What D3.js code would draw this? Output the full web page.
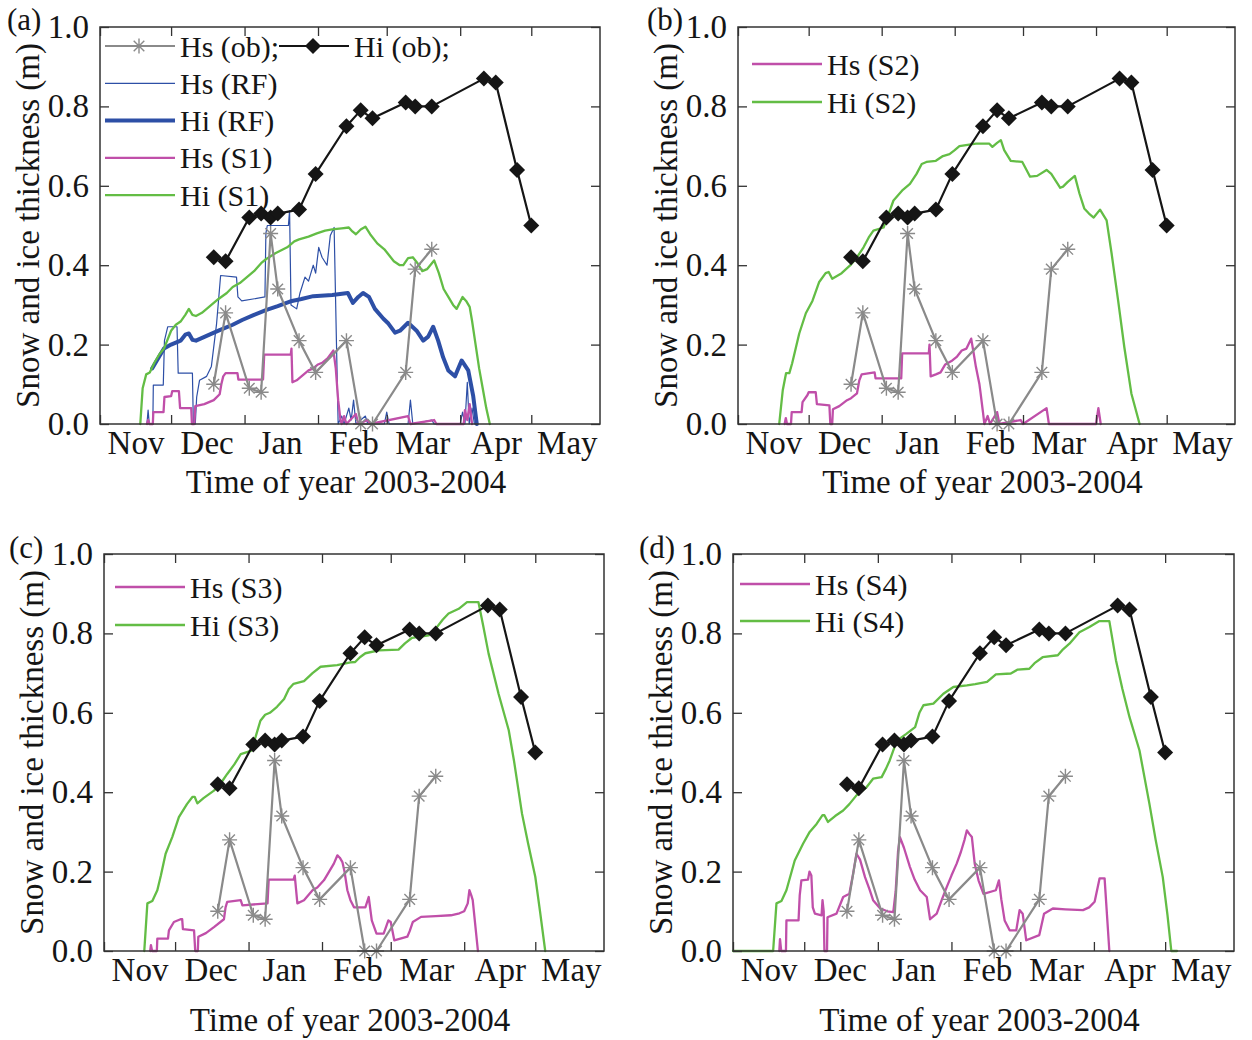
<!DOCTYPE html>
<html lang="en">
<head>
<meta charset="UTF-8">
<title>Snow and ice thickness 2003-2004</title>
<script src="https://d3js.org/d3.v7.min.js"></script>
<style>
  body { margin: 0; background: #fff; }
  svg text { font-family: "Liberation Serif", "Times New Roman", serif; fill: #151515; }
  .line { fill: none; stroke-linejoin: round; stroke-linecap: round; }
</style>
</head>
<body>
<script>
// ---- observations ----
const obsDates = ["2003-12-19", "2003-12-24", "2004-01-03", "2004-01-08", "2004-01-12", "2004-01-15",
  "2004-01-24", "2004-01-31", "2004-02-13", "2004-02-19", "2004-02-24", "2004-03-09", "2004-03-13",
  "2004-03-20", "2004-04-11", "2004-04-16", "2004-04-25", "2004-05-01"]
const hiOb = [0.42, 0.41, 0.52, 0.53, 0.52, 0.53, 0.54, 0.63, 0.75, 0.79, 0.77, 0.81, 0.80, 0.80, 0.87, 0.86, 0.64, 0.50]
const hsOb = [0.10, 0.28, 0.09, 0.08, 0.48, 0.34, 0.21, 0.13, 0.21, 0.0, 0.0, 0.13, 0.39, 0.44]

// ---- model runs: [days since 1 Nov 2003, thickness in m] ----
const hsRF = [[19.8,0],[20.3,0.035],[20.8,0],[22.3,0],[22.5,0.098],[26.7,0.098],[27.2,0.21],[28.6,0.245],[32.5,0.245],
  [33,0.128],[39,0.128],[39.4,0],[40.2,0],[40.8,0.068],[42,0.11],[45,0.12],[47,0.145],[49.2,0.253],[50.9,0.374],
  [57.6,0.37],[58.2,0.32],[59.8,0.31],[69.6,0.32],[70,0.48],[70.6,0.50],[75,0.50],[79.5,0.50],[80,0.537],[80.6,0.30],
  [83,0.29],[84.4,0.33],[86.5,0.37],[88,0.36],[90,0.40],[91,0.38],[92.3,0.445],[93.7,0.42],[95.8,0.40],[97.2,0.475],
  [98.8,0.495],[99.8,0.20],[100.5,0],[102,0.02],[103,0],[105,0.04],[106,0.01],[107,0.06],[108,0],[112,0.02],[113,0],
  [120,0],[121,0.03],[122,0],[130,0],[131,0.06],[132,0],[140,0.01],[141,0],[152,0],[153,0.03],[154,0],[155,0.105],
  [155.8,0],[157,0.04],[158,0]]
const hiRF = [[22,0.14],[25,0.17],[27,0.19],[30,0.2],[34,0.21],[36,0.225],[37.5,0.228],[39,0.212],[40.5,0.21],
  [45,0.222],[50,0.235],[56,0.25],[60,0.262],[65,0.275],[70,0.287],[75,0.297],[81,0.31],[85,0.315],[90,0.322],
  [98,0.325],[104.6,0.33],[106.7,0.305],[109,0.32],[111,0.33],[113.5,0.32],[116,0.29],[119.6,0.265],[121.7,0.253],
  [124.5,0.23],[126.6,0.235],[130,0.255],[133.6,0.235],[136.4,0.21],[138.5,0.22],[140.6,0.245],[142.7,0.21],
  [144.8,0.168],[147,0.135],[149.8,0.12],[152.6,0.16],[155.4,0.135],[157.5,0.07],[159,0]]
const hsS1 = [[19.8,0],[20.3,0.01],[20.8,0],[22.3,0],[22.5,0.03],[26.8,0.03],[27.2,0.068],[30,0.07],[30.5,0.083],
  [33.3,0.083],[33.8,0.04],[38.5,0.04],[38.8,0],[39.8,0],[40.2,0.045],[44,0.05],[48,0.06],[50.5,0.075],[51.2,0.10],
  [52,0.12],[53,0.128],[58,0.128],[58.4,0.112],[68.8,0.112],[69.3,0.175],[80.5,0.175],[80.8,0.19],[81.2,0.105],
  [83,0.11],[86,0.125],[88,0.135],[90,0.14],[92,0.15],[94,0.155],[96,0.165],[98.5,0.185],[99.5,0.14],[100.5,0.06],
  [101.5,0.01],[102,0],[103,0.02],[104,0],[108,0.025],[109,0],[113,0.01],[114,0],[130,0.02],[131,0],[141,0.01],
  [142,0],[153.5,0],[154,0.035],[155,0.01],[156,0.05],[157,0]]
const hiS1 = [[17,0],[18,0.09],[19.5,0.125],[21,0.13],[23,0.155],[25,0.175],[27,0.19],[30,0.235],[32,0.25],
  [34,0.258],[36,0.275],[37.5,0.29],[39,0.275],[40.5,0.272],[43,0.28],[46,0.295],[50,0.315],[53.5,0.33],[56,0.345],
  [59,0.355],[62,0.37],[65,0.385],[68,0.405],[70,0.415],[74,0.43],[79,0.445],[82,0.46],[84,0.465],[88,0.472],
  [91.5,0.48],[95,0.487],[98,0.49],[102,0.493],[105,0.495],[106.5,0.485],[108,0.478],[110,0.49],[112,0.497],
  [114,0.478],[117,0.455],[120,0.44],[122,0.425],[124,0.41],[126.5,0.40],[128,0.40],[130,0.418],[132,0.42],
  [134,0.405],[136,0.385],[138,0.39],[141,0.412],[143,0.38],[145,0.34],[147,0.32],[149,0.30],[150.5,0.29],
  [153,0.32],[154.5,0.31],[156,0.295],[157,0.26],[158.5,0.2],[160,0.14],[161.5,0.09],[163,0.04],[164.5,0]]
const hsS2 = [[19.8,0],[20.3,0.015],[20.8,0],[22.5,0],[22.8,0.03],[27,0.03],[27.4,0.055],[29.5,0.073],[30,0.08],
  [33,0.08],[33.5,0.05],[38.8,0.047],[39.2,0],[40,0],[40.3,0.037],[43,0.045],[46.3,0.06],[48,0.065],[50.5,0.077],
  [51.5,0.11],[52.5,0.125],[58,0.13],[58.4,0.115],[69.3,0.115],[69.7,0.178],[81,0.178],[81.3,0.2],[81.8,0.12],
  [84,0.125],[86,0.13],[88,0.15],[91,0.16],[93,0.17],[95,0.185],[97,0.19],[99,0.215],[100,0.18],[101,0.144],
  [102.5,0.1],[103,0.077],[104,0.03],[104.6,0],[106,0.02],[107,0],[110,0.03],[111,0],[120,0.01],[121,0],
  [131,0.04],[132,0],[152,0],[153,0.04],[154,0]]
const hiS2 = [[17.5,0],[19,0.085],[20.4,0.128],[21.8,0.128],[23,0.153],[26,0.228],[28.8,0.279],[31.6,0.31],
  [34.4,0.357],[37.2,0.38],[38.5,0.383],[40,0.366],[44,0.38],[47.7,0.40],[50.5,0.42],[53.3,0.445],[55.5,0.47],
  [57.5,0.487],[61.8,0.495],[64,0.53],[66,0.563],[70,0.59],[73,0.605],[75.8,0.63],[78,0.655],[80,0.66],[84,0.663],
  [87,0.675],[89.8,0.68],[92,0.69],[94,0.70],[101,0.706],[106.7,0.706],[108,0.698],[110,0.708],[111.6,0.715],
  [113,0.69],[115.8,0.663],[120.7,0.66],[122.5,0.64],[124,0.623],[127,0.625],[131,0.64],[133,0.63],[136.8,0.595],
  [138,0.598],[140,0.61],[143,0.625],[145,0.58],[147,0.543],[149,0.53],[151,0.52],[153.7,0.54],[156.5,0.513],
  [158.6,0.43],[161.4,0.31],[164,0.194],[167,0.077],[170.5,0]]
const hsS3 = [[19.5,0],[19.8,0.015],[20.3,0],[22.3,0],[22.5,0.031],[27,0.031],[27.4,0.052],[29.5,0.073],[32.3,0.08],
  [33,0.08],[33.3,0.055],[38,0.052],[38.5,0],[39.6,0],[39.8,0.036],[43,0.045],[46.4,0.06],[50.6,0.08],[51.3,0.11],
  [52,0.124],[57.7,0.128],[58.4,0.115],[69,0.12],[69.5,0.18],[80,0.18],[80.5,0.19],[81.6,0.12],[84.4,0.128],
  [88,0.153],[90,0.16],[92.8,0.178],[95,0.2],[97,0.22],[98.5,0.241],[99.5,0.235],[100.6,0.224],[101.5,0.2],
  [102.7,0.153],[104,0.128],[105.5,0.11],[110.3,0.11],[111.7,0.136],[113,0.077],[115,0.044],[118,0.044],[119,0.06],
  [120,0.077],[121,0.073],[122.5,0.027],[128,0.036],[129,0.05],[130.3,0.073],[133.8,0.086],[140,0.088],
  [146.4,0.09],[150,0.095],[152,0.10],[153.5,0.12],[154.2,0.153],[155,0.14],[155.6,0.128],[157.8,0]]
const hiS3 = [[17,0],[18.3,0.12],[20.4,0.126],[22.5,0.153],[24,0.19],[26,0.245],[28.8,0.287],[31.6,0.337],[35,0.37],
  [37.3,0.388],[38.3,0.388],[39.4,0.372],[42,0.385],[46.4,0.404],[49,0.42],[52,0.446],[55,0.47],[57.7,0.496],
  [62,0.504],[64,0.54],[66,0.58],[68,0.595],[70,0.60],[73,0.615],[76,0.635],[78,0.66],[80,0.673],[84.4,0.68],
  [88,0.70],[91.4,0.716],[98.4,0.72],[104,0.727],[106,0.728],[108,0.74],[110.3,0.75],[116,0.757],[124.3,0.759],
  [127,0.775],[130,0.789],[137,0.795],[140,0.812],[143,0.835],[145.4,0.85],[149.7,0.862],[153.2,0.879],[158,0.879],
  [160,0.82],[162.3,0.749],[166.5,0.648],[170.8,0.556],[173,0.48],[176.4,0.346],[179,0.27],[182,0.187],[184,0.1],
  [186.2,0]]
const hsS4 = [[19.5,0],[19.8,0.03],[20.3,0],[22.3,0],[22.5,0.077],[27.6,0.077],[28.1,0.14],[28.8,0.178],[31.6,0.18],
  [32.2,0.2],[33,0.19],[33.6,0.11],[34.5,0.094],[37.3,0.09],[37.7,0.128],[38.2,0.1],[38.5,0],[39.6,0],[39.8,0.085],
  [43.6,0.094],[46.4,0.136],[49,0.144],[50.6,0.195],[52,0.245],[53.5,0.23],[55.6,0.186],[57.5,0.155],[59,0.128],
  [62,0.107],[65,0.1],[67.5,0.098],[68.5,0.15],[69.5,0.25],[70.3,0.287],[72,0.26],[74.5,0.212],[76.5,0.18],
  [78.8,0.153],[81.6,0.136],[83,0.08],[85.8,0.094],[88,0.13],[90,0.161],[92,0.19],[94.2,0.22],[96,0.25],
  [97.5,0.28],[98.5,0.304],[99.5,0.295],[100.6,0.287],[101.8,0.22],[103.4,0.178],[105.5,0.144],[110.7,0.153],
  [112,0.178],[113,0.13],[114.4,0.077],[116.5,0.052],[119.3,0.052],[120.7,0.103],[122,0.094],[123.5,0.027],
  [129,0.04],[131,0.094],[134.7,0.107],[140,0.105],[147.4,0.103],[150,0.11],[152.3,0.124],[154.4,0.183],
  [156.5,0.183],[158.5,0]]
const hiS4 = [[0,0],[16.9,0],[18.3,0.12],[20.4,0.126],[22.5,0.153],[26,0.228],[29.5,0.27],[32.3,0.30],[35.2,0.32],
  [37.7,0.342],[38.5,0.342],[40,0.325],[43,0.34],[46.4,0.354],[49,0.37],[52,0.392],[56.3,0.413],[59,0.434],
  [62.6,0.438],[64.5,0.46],[66,0.48],[69,0.53],[73,0.547],[76.7,0.564],[78.5,0.60],[80.2,0.619],[84.4,0.623],
  [88.6,0.648],[92.8,0.665],[98.5,0.669],[102,0.672],[107,0.678],[110.7,0.697],[117,0.699],[119.9,0.709],
  [124.8,0.711],[127,0.725],[130.4,0.74],[136.8,0.745],[139,0.76],[141.7,0.774],[145.9,0.803],[150.1,0.816],
  [154.3,0.831],[158.5,0.831],[161.3,0.732],[164,0.66],[167,0.589],[171.2,0.505],[175.4,0.37],[178,0.28],
  [181,0.186],[183,0.09],[184.6,0],[187,0]]

// ---- axes ----
const monthStarts = ["2003-11-01", "2003-12-01", "2004-01-01", "2004-02-01", "2004-03-01", "2004-04-01", "2004-05-01"]
const monthLabels = ["Nov", "Dec", "Jan", "Feb", "Mar", "Apr", "May"]
const yTicks = [0, 0.2, 0.4, 0.6, 0.8, 1.0]
const seasonStart = "2003-11-01"
const seasonEnd = "2004-05-30"

const parse = d3.timeParse("%Y-%m-%d")
const t0 = parse(seasonStart)
const dayToDate = d => new Date(t0.getTime() + d * 864e5)

const col = {
  gray: "#8a8a8a", black: "#151515", blue: "#2d4fa6", pink: "#c04fa9", green: "#63bd45", axis: "#333"
}
const styles = {
  hsOb: { color: col.gray, width: 2.2, marker: "star" },
  hiOb: { color: col.black, width: 2.2, marker: "diamond" },
  hsRF: { color: col.blue, width: 1.2 },
  hiRF: { color: col.blue, width: 4 },
  hsS: { color: col.pink, width: 2.3 },
  hiS: { color: col.green, width: 2.3 }
}
const fontBig = 33

const panels = [
  { tag: "(a)", x0: 100, x1: 600, y0: 27, y1: 424, tagX: 7, tagY: 30, titleY: 493, legX: 105, legY: 46, legDy: 37.3,
    series: [[hsRF, "hsRF"], [hiRF, "hiRF"], [hsS1, "hsS"], [hiS1, "hiS"]],
    legend: [["Hs (ob);", "hsOb", 0, 0], ["Hi (ob);", "hiOb", 1, 0], ["Hs (RF)", "hsRF", 0, 1], ["Hi (RF)", "hiRF", 0, 2],
      ["Hs (S1)", "hsS", 0, 3], ["Hi (S1)", "hiS", 0, 4]] },
  { tag: "(b)", x0: 738, x1: 1235, y0: 27, y1: 424, tagX: 647, tagY: 30, titleY: 493, legX: 752, legY: 64, legDy: 38,
    series: [[hsS2, "hsS"], [hiS2, "hiS"]],
    legend: [["Hs (S2)", "hsS", 0, 0], ["Hi (S2)", "hiS", 0, 1]] },
  { tag: "(c)", x0: 104, x1: 604, y0: 554, y1: 951, tagX: 9, tagY: 558, titleY: 1031, legX: 115, legY: 587, legDy: 38,
    series: [[hsS3, "hsS"], [hiS3, "hiS"]],
    legend: [["Hs (S3)", "hsS", 0, 0], ["Hi (S3)", "hiS", 0, 1]] },
  { tag: "(d)", x0: 733, x1: 1234, y0: 554, y1: 951, tagX: 639, tagY: 558, titleY: 1031, legX: 740, legY: 584, legDy: 37,
    series: [[hsS4, "hsS"], [hiS4, "hiS"]],
    legend: [["Hs (S4)", "hsS", 0, 0], ["Hi (S4)", "hiS", 0, 1]] }
]

const svg = d3.select("body").append("svg")
  .attr("width", 1252)
  .attr("height", 1040)

const starPath = r => {
  const a = r * Math.SQRT1_2
  return `M${-r},0L${r},0M0,${-r}L0,${r}M${-a},${-a}L${a},${a}M${-a},${a}L${a},${-a}`
}
const diamondPath = d3.symbol(d3.symbolSquare, 128)()

function drawMarker(g, kind, cx, cy) {
  if (kind === "star") {
    g.append("path").attr("d", starPath(7.5))
      .attr("transform", `translate(${cx},${cy})`)
      .attr("stroke", col.gray).attr("stroke-width", 1.4).attr("fill", "none")
  } else {
    g.append("path").attr("d", diamondPath)
      .attr("transform", `translate(${cx},${cy}) rotate(45)`)
      .attr("fill", col.black)
  }
}

panels.forEach(p => {
  const x = d3.scaleTime().domain([parse(seasonStart), parse(seasonEnd)]).range([p.x0, p.x1])
  const y = d3.scaleLinear().domain([0, 1]).range([p.y1, p.y0])
  const g = svg.append("g")

  const modelLine = d3.line().x(d => x(dayToDate(d[0]))).y(d => y(d[1]))

  p.series.forEach(([data, key]) => {
    g.append("path")
      .attr("class", "line")
      .attr("d", modelLine(data))
      .attr("stroke", styles[key].color)
      .attr("stroke-width", styles[key].width)
  })

  // observations
  const hsPts = hsOb.map((v, i) => [parse(obsDates[i]), v])
  const hiPts = hiOb.map((v, i) => [parse(obsDates[i]), v])
  const obsLine = d3.line().x(d => x(d[0])).y(d => y(d[1]))

  g.append("path").attr("class", "line").attr("d", obsLine(hsPts))
    .attr("stroke", col.gray).attr("stroke-width", styles.hsOb.width)
  hsPts.forEach(d => drawMarker(g, "star", x(d[0]), y(d[1])))

  g.append("path").attr("class", "line").attr("d", obsLine(hiPts))
    .attr("stroke", col.black).attr("stroke-width", styles.hiOb.width)
  hiPts.forEach(d => drawMarker(g, "diamond", x(d[0]), y(d[1])))

  // frame and ticks
  const monthDates = monthStarts.map(parse)
  const styleAxis = a => {
    a.select(".domain").remove()
    a.selectAll("line").attr("stroke", col.axis).attr("stroke-width", 1.3)
    a.attr("font-family", "Liberation Serif, Times New Roman, serif").attr("font-size", fontBig)
    a.selectAll("text").attr("fill", "#151515")
  }
  g.append("g").attr("transform", `translate(0,${p.y1})`)
    .call(d3.axisBottom(x).tickValues(monthDates).tickSizeInner(-9).tickSizeOuter(0).tickFormat(""))
    .call(styleAxis)
  g.append("g").attr("transform", `translate(0,${p.y0})`)
    .call(d3.axisTop(x).tickValues(monthDates).tickSizeInner(-9).tickSizeOuter(0).tickFormat(""))
    .call(styleAxis)
  g.append("g").attr("transform", `translate(${p.x0},0)`)
    .call(d3.axisLeft(y).tickValues(yTicks).tickSizeInner(-9).tickSizeOuter(0).tickPadding(11).tickFormat(d3.format(".1f")))
    .call(styleAxis)
  g.append("g").attr("transform", `translate(${p.x1},0)`)
    .call(d3.axisRight(y).tickValues(yTicks).tickSizeInner(-9).tickSizeOuter(0).tickFormat(""))
    .call(styleAxis)

  // month names centred in each month
  const midMonth = monthDates.map(d => d3.timeDay.offset(d, 15))
  g.append("g").attr("transform", `translate(0,${p.y1})`)
    .call(d3.axisBottom(x).tickValues(midMonth).tickSize(0).tickPadding(7).tickFormat((d, i) => monthLabels[i]))
    .call(styleAxis)

  g.append("rect")
    .attr("x", p.x0).attr("y", p.y0)
    .attr("width", p.x1 - p.x0).attr("height", p.y1 - p.y0)
    .attr("fill", "none").attr("stroke", col.axis).attr("stroke-width", 1.5)

  // titles
  g.append("text")
    .attr("x", (p.x0 + p.x1) / 2 - 4).attr("y", p.titleY)
    .attr("text-anchor", "middle").attr("font-size", fontBig)
    .text("Time of year 2003-2004")
  g.append("text")
    .attr("transform", `translate(${p.x0 - 61},${(p.y0 + p.y1) / 2}) rotate(-90)`)
    .attr("text-anchor", "middle").attr("font-size", fontBig)
    .text("Snow and ice thickness (m)")
  g.append("text")
    .attr("x", p.tagX).attr("y", p.tagY).attr("font-size", 31)
    .text(p.tag)

  // legend
  p.legend.forEach(([label, key, c, r]) => {
    const lx = p.legX + c * 174
    const ly = p.legY + r * p.legDy
    const s = styles[key]
    g.append("line")
      .attr("x1", lx).attr("x2", lx + 70).attr("y1", ly).attr("y2", ly)
      .attr("stroke", s.color).attr("stroke-width", s.width)
    if (s.marker) drawMarker(g, s.marker, lx + 34, ly)
    g.append("text")
      .attr("x", lx + 75).attr("y", ly).attr("dy", "0.35em")
      .attr("font-size", 30)
      .text(label)
  })
})
</script>
</body>
</html>
